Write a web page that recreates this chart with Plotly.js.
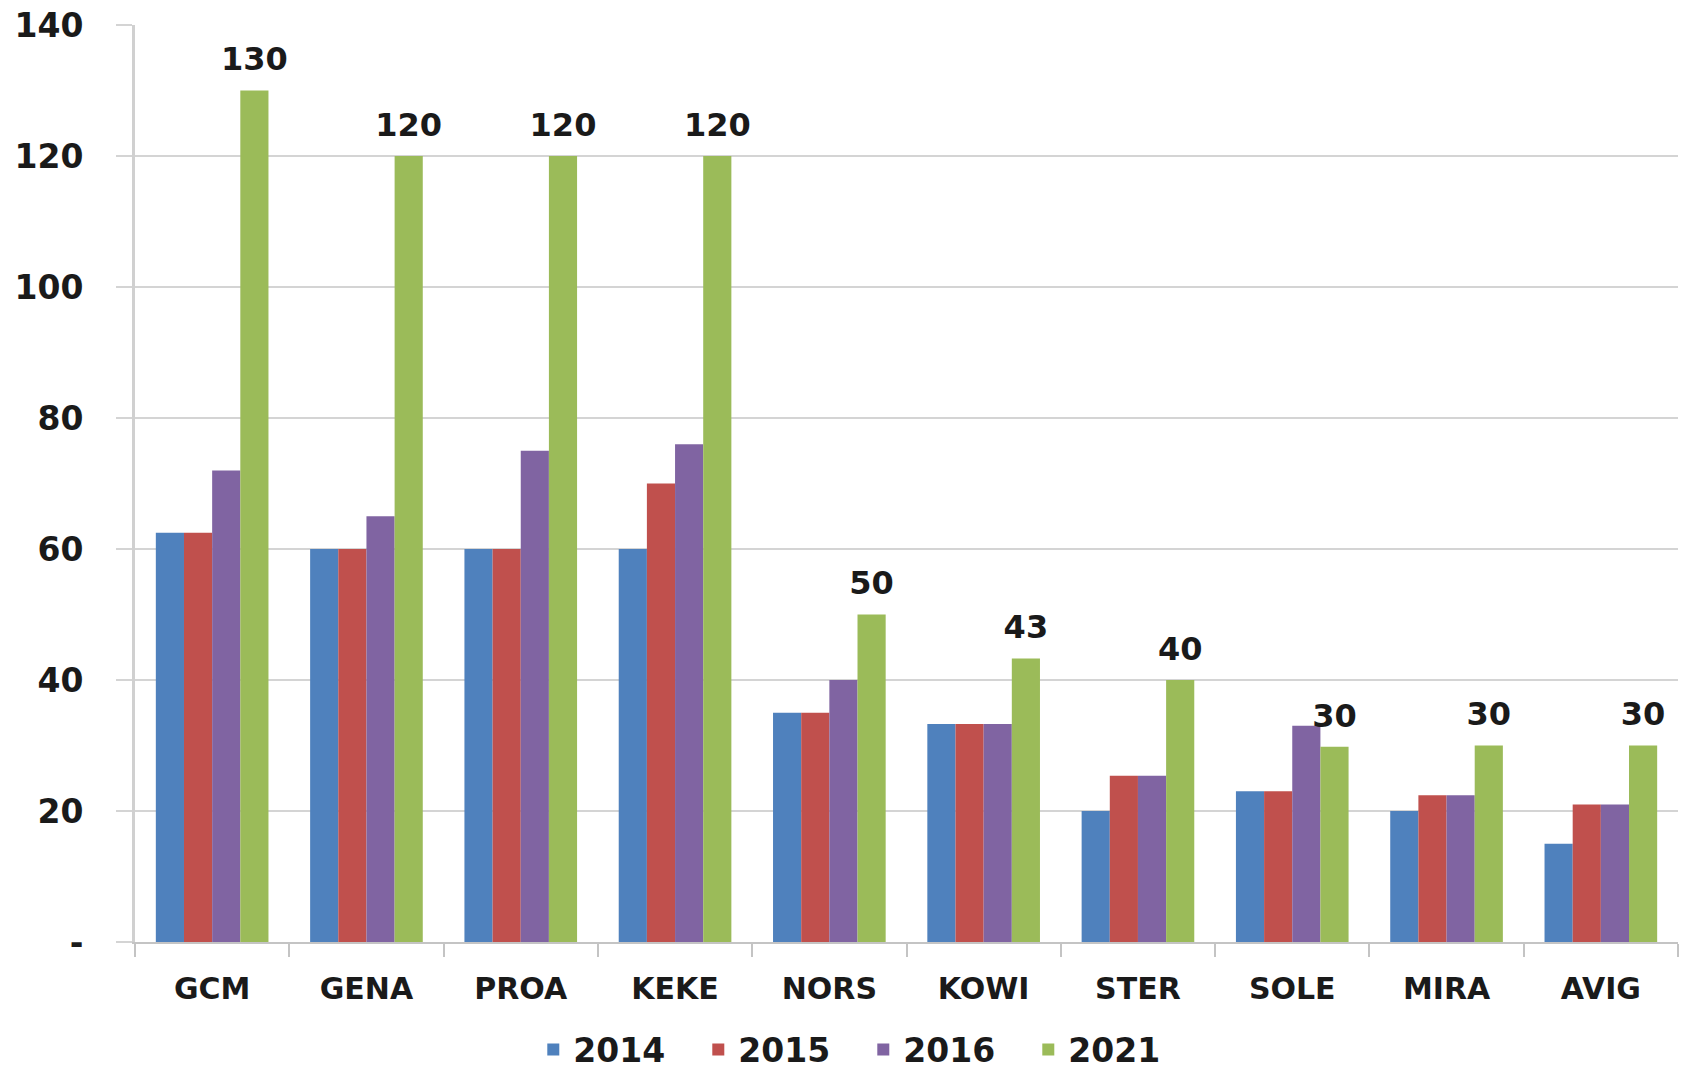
<!DOCTYPE html>
<html>
<head>
<meta charset="utf-8">
<script src="https://cdn.plot.ly/plotly-3.0.1.min.js"></script>
<style>
  html, body { margin: 0; padding: 0; background: #ffffff; }
  #chart { width: 1683px; height: 1071px; }
</style>
</head>
<body>
<div id="chart"></div>
<script>
// ---- data ----
const categories = ["GCM", "GENA", "PROA", "KEKE", "NORS", "KOWI", "STER", "SOLE", "MIRA", "AVIG"];
const seriesNames = ["2014", "2015", "2016", "2021"];
const values2014 = [62.5, 60, 60, 60, 35, 33.3, 20, 23, 20, 15];
const values2015 = [62.5, 60, 60, 70, 35, 33.3, 25.4, 23, 22.4, 21];
const values2016 = [72, 65, 75, 76, 40, 33.3, 25.4, 33, 22.4, 21];
const values2021 = [130, 120, 120, 120, 50, 43.3, 40, 29.8, 30, 30];
const labels2021 = ["130", "120", "120", "120", "50", "43", "40", "30", "30", "30"];
const yTickVals = [0, 20, 40, 60, 80, 100, 120, 140];
const yTickText = ["-", "20", "40", "60", "80", "100", "120", "140"];

// ---- styling ----
const colors = ["#4f81bd", "#c0504d", "#8064a2", "#9bbb59"];
const FONT = "DejaVu Sans, Verdana, sans-serif";
const TXT = "#1a1a1a";
const GRID = "#d4d4d4";

const allValues = [values2014, values2015, values2016, values2021];
const traces = allValues.map((vals, i) => {
  const t = {
    type: "bar",
    name: seriesNames[i],
    x: categories,
    y: vals,
    marker: { color: colors[i], line: { width: 0 } },
    hoverinfo: "x+y+name"
  };
  if (i === 3) {
    t.text = labels2021;
    // big label + a tiny blank line underneath, which lifts the label off the bar top
    t.texttemplate = "<span style='font-size:32px'>%{text}</span><br>&nbsp;";
    t.textposition = "outside";
    t.constraintext = "none";
    t.textfont = { family: FONT, size: 11, color: TXT, weight: "bold" };
    t.cliponaxis = false;
  }
  return t;
});

const layout = {
  width: 1683,
  height: 1071,
  paper_bgcolor: "#ffffff",
  plot_bgcolor: "#ffffff",
  margin: { l: 135, r: 5, t: 25, b: 129, autoexpand: false },
  barmode: "group",
  bargap: 0.27,
  bargroupgap: 0,
  showlegend: true,
  legend: {
    orientation: "h",
    x: 0.472,
    xanchor: "center",
    yref: "container",
    y: 0.02,
    yanchor: "middle",
    font: { family: FONT, size: 33, color: TXT, weight: "bold" },
    itemwidth: 30,
    entrywidth: 120,
    entrywidthmode: "pixels",
    traceorder: "normal"
  },
  xaxis: {
    type: "category",
    showline: true,
    linecolor: "#c4c4c4",
    linewidth: 2,
    ticks: "outside",
    tickson: "boundaries",
    ticklen: 13,
    tickwidth: 2,
    tickcolor: "#c4c4c4",
    ticklabelstandoff: 19,
    tickfont: { family: FONT, size: 30, color: TXT, weight: "bold" },
    showgrid: false,
    zeroline: false,
    fixedrange: true
  },
  yaxis: {
    range: [0, 140],
    tickvals: yTickVals,
    ticktext: yTickText,
    showgrid: true,
    gridcolor: GRID,
    gridwidth: 2,
    showline: true,
    linecolor: "#d0d0d0",
    linewidth: 3,
    ticks: "outside",
    ticklen: 16,
    tickwidth: 2,
    tickcolor: GRID,
    ticklabelstandoff: 26,
    tickfont: { family: FONT, size: 33, color: TXT, weight: "bold" },
    zeroline: false,
    fixedrange: true
  }
};

Plotly.newPlot("chart", traces, layout, { displayModeBar: false, staticPlot: true });
</script>
</body>
</html>
